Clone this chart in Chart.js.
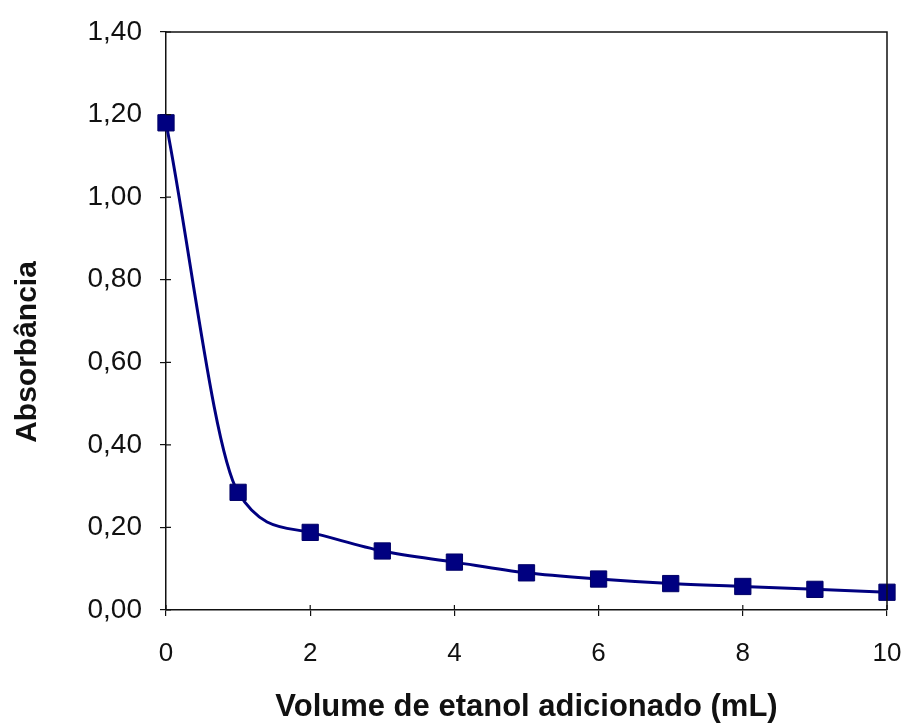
<!DOCTYPE html>
<html>
<head>
<meta charset="utf-8">
<script src="https://cdn.jsdelivr.net/npm/chart.js@4/dist/chart.umd.min.js"></script>
<style>
  html, body { margin: 0; padding: 0; background: #fff; }
  #wrap { width: 907px; height: 726px; }
</style>
</head>
<body>
<div id="wrap"><canvas id="absChart" width="907" height="726"></canvas></div>
<script>
// Data
const volumes = [0, 1, 2, 3, 4, 5, 6, 7, 8, 9, 10];
const absorbance = [1.18, 0.285, 0.188, 0.143, 0.116, 0.09, 0.075, 0.064, 0.057, 0.05, 0.043];
const xTitle = "Volume de etanol adicionado (mL)";
const yTitle = "Absorbância";

const navy = "#000080";
const ink = "#111";
const fam = "Liberation Sans, Arial, sans-serif";

// frame on top/right, inner half of tick marks, and the y title (sits a bit low in the original)
const framePlugin = {
    id: "frame",
    afterDraw(chart) {
        const { ctx, chartArea: a, scales } = chart;
        ctx.save();
        ctx.strokeStyle = ink;
        ctx.lineWidth = 1.5;
        ctx.beginPath();
        ctx.moveTo(a.left, a.top);
        ctx.lineTo(a.right, a.top);
        ctx.lineTo(a.right, a.bottom);
        ctx.stroke();
        ctx.lineWidth = 1.2;
        ctx.beginPath();
        scales.x.ticks.forEach((t) => {
            const px = scales.x.getPixelForValue(t.value);
            ctx.moveTo(px, a.bottom);
            ctx.lineTo(px, a.bottom - 5);
        });
        scales.y.ticks.forEach((t) => {
            const py = scales.y.getPixelForValue(t.value);
            ctx.moveTo(a.left, py);
            ctx.lineTo(a.left + 5, py);
        });
        ctx.stroke();

        ctx.translate(28, 352);
        ctx.rotate(-Math.PI / 2);
        ctx.fillStyle = ink;
        ctx.font = "bold 30px " + fam;
        ctx.textAlign = "center";
        ctx.textBaseline = "middle";
        ctx.fillText(yTitle, 0, 0);
        ctx.restore();
    },
};

new Chart(document.getElementById("absChart"), {
    type: "line",
    data: {
        datasets: [{
            data: volumes.map((v, i) => ({ x: v, y: absorbance[i] })),
            borderColor: navy,
            borderWidth: 3,
            backgroundColor: navy,
            pointStyle: "rect",
            pointRadius: 11.5,
            pointBorderColor: "#000066",
            pointBorderWidth: 1,
            cubicInterpolationMode: "monotone",
            clip: false,
        }],
    },
    options: {
        responsive: false,
        animation: false,
        layout: { padding: { left: 8, right: 20, top: 32, bottom: 0 } },
        plugins: { legend: { display: false }, tooltip: { enabled: false } },
        scales: {
            x: {
                type: "linear",
                min: 0,
                max: 10,
                ticks: { stepSize: 2, color: ink, padding: 22, font: { family: fam, size: 26 } },
                grid: { drawOnChartArea: false, tickLength: 6, color: ink, lineWidth: 1.2 },
                border: { color: ink, width: 1.5 },
                title: { display: true, text: xTitle, color: ink, padding: { top: 4, bottom: 0 }, font: { family: fam, size: 31, weight: "bold" } },
                afterFit(scale) {
                    scale.height = 116;
                    scale.paddingRight = 10;
                    scale.paddingLeft = 0;
                },
            },
            y: {
                min: 0,
                max: 1.4,
                ticks: {
                    stepSize: 0.2,
                    color: ink,
                    padding: 18,
                    font: { family: fam, size: 28 },
                    callback: (v) => v.toFixed(2).replace(".", ","),
                },
                grid: { drawOnChartArea: false, tickLength: 6, color: ink, lineWidth: 1.2 },
                border: { color: ink, width: 1.5 },
                afterFit(scale) {
                    scale.width = 158;
                    scale.paddingTop = 0;
                    scale.paddingBottom = 0;
                },
            },
        },
    },
    plugins: [framePlugin],
});
</script>
</body>
</html>
